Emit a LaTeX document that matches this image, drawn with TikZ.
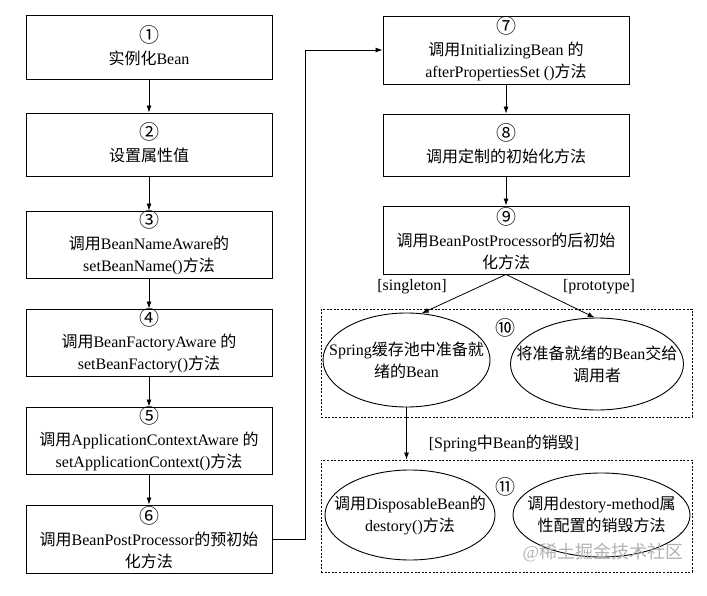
\documentclass[tikz,border=0pt]{standalone}
\usepackage{fontspec}
\setmainfont{Liberation Serif}
\newfontfamily\cjk{Noto Sans CJK SC}
\newcommand\zh[1]{{\cjk #1}}
\newcommand\cn[1]{\rule{0pt}{14pt}\smash{{\cjk\fontsize{20}{22}\selectfont #1}}}
\usetikzlibrary{arrows.meta,shapes.geometric}
\begin{document}
\begin{tikzpicture}[x=1pt,y=-1pt,
  font=\fontsize{16}{22}\selectfont,
  box/.style={draw, line width=0.9pt, minimum width=246pt, align=center, inner sep=0pt},
  ell/.style={draw, ellipse, line width=0.9pt, inner sep=0pt},
  etxt/.style={align=center, inner sep=0pt},
  dbox/.style={draw, line width=0.9pt, dash pattern=on 2pt off 1.6pt, minimum width=371pt, inner sep=0pt},
  arr/.style={-{Latex[length=7pt,width=5pt]}, line width=0.8pt},
  lbl/.style={inner sep=0pt}]
\useasboundingbox (0,0) rectangle (707,596);
% left column
\node[box, minimum height=64pt] (b1) at (149,47) {\cn{①}\\\zh{实例化}Bean};
\node[box, minimum height=63pt] (b2) at (149,144.5) {\cn{②}\\\zh{设置属性值}};
\node[box, minimum height=67pt] (b3) at (149,244.5) {\cn{③}\\\zh{调用}BeanNameAware\zh{的}\\setBeanName()\zh{方法}};
\node[box, minimum height=67pt] (b4) at (149,342.5) {\cn{④}\\\zh{调用}BeanFactoryAware \zh{的}\\setBeanFactory()\zh{方法}};
\node[box, minimum height=67pt] (b5) at (149,440.5) {\cn{⑤}\\\zh{调用}ApplicationContextAware \zh{的}\\setApplicationContext()\zh{方法}};
\node[box, minimum height=68pt] (b6) at (149,539) {\cn{⑥}\\\zh{调用}BeanPostProcessor\zh{的预初始}\\\zh{化方法}};
% right column
\node[box, minimum height=68pt] (b7) at (506,50) {\cn{⑦}\\\zh{调用}InitializingBean \zh{的}\\afterPropertiesSet ()\zh{方法}};
\node[box, minimum height=62pt] (b8) at (506,145) {\cn{⑧}\\\zh{调用定制的初始化方法}};
\node[box, minimum height=68pt] (b9) at (506,240) {\cn{⑨}\\\zh{调用}BeanPostProcessor\zh{的后初始}\\\zh{化方法}};
% group 10
\node[dbox, minimum height=108pt] (g10) at (506.5,363) {};
\node[ell, minimum width=167pt, minimum height=94pt] (e10a) at (406.5,360) {};
\node[etxt] (t10a) at (e10a.center) {Spring\zh{缓存池中准备就}\\\zh{绪的}Bean};
\node[ell, minimum width=173pt, minimum height=92pt] (e10b) at (597,364) {};
\node[etxt] (t10b) at (e10b.center) {\zh{将准备就绪的}Bean\zh{交给}\\\zh{调用者}};
\node[lbl] (n10) at (505,328) {\zh{\fontsize{20}{20}\selectfont ⑩}};
% group 11
\node[dbox, minimum height=112pt] (g11) at (506.5,516) {};
\node[ell, minimum width=170pt, minimum height=90pt] (e11a) at (410,515) {};
\node[etxt] (t11a) at (e11a.center) {\zh{调用}DisposableBean\zh{的}\\destory()\zh{方法}};
\node[ell, minimum width=177pt, minimum height=84pt] (e11b) at (601.5,515) {};
\node[etxt] (t11b) at (e11b.center) {\zh{调用}destory-method\zh{属}\\\zh{性配置的销毁方法}};
\node[lbl] (n11) at (505,487) {\zh{\fontsize{20}{20}\selectfont ⑪}};
% labels
\node[lbl] (ls) at (412,287) {[singleton]};
\node[lbl] (lp) at (599,287) {[prototype]};
\node[lbl] (ld) at (504,443) {[Spring\zh{中}Bean\zh{的销毁}]};
\node[lbl, text=black!30, font=\fontsize{18}{20}\selectfont] (wm) at (603,553) {@\zh{稀土掘金技术社区}};
% connectors
\draw[arr] (b1) -- (b2);
\draw[arr] (b2) -- (b3);
\draw[arr] (b3) -- (b4);
\draw[arr] (b4) -- (b5);
\draw[arr] (b5) -- (b6);
\draw[arr] (b6.east) -- ++(33,0) |- (b7.west);
\draw[arr] (b7) -- (b8);
\draw[arr] (b8) -- (b9);
\draw[arr] (b9.south) -- (e10a.72);
\draw[arr] (b9.south) -- (e10b.93);
\draw[arr] (e10a.south) -- (e10a.south |- g11.north);
\end{tikzpicture}
\end{document}
